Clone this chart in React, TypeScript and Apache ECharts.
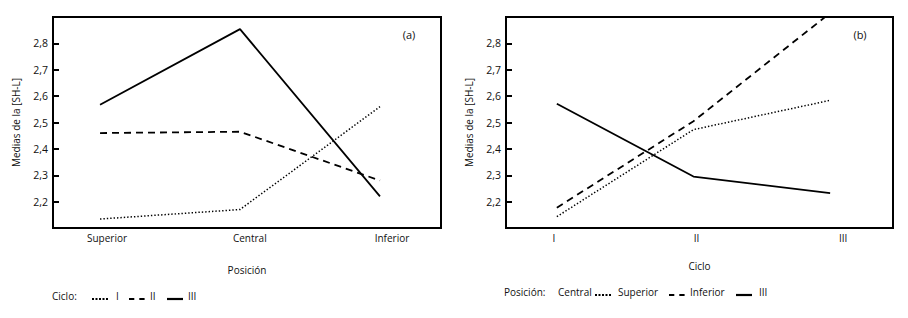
import React, { useEffect, useRef } from "react";
import * as echarts from "echarts";

// Panel (a): x = Posición, series = Ciclo
const positionCategories = ["Superior", "Central", "Inferior"];
const cicloI = [2.134, 2.17, 2.56];
const cicloII = [2.46, 2.465, 2.28];
const cicloIII = [2.567, 2.854, 2.22];

// Panel (b): x = Ciclo, series = Posición
const cycleCategories = ["I", "II", "III"];
const posSuperior = [2.143, 2.473, 2.584];
const posInferior = [2.177, 2.505, 2.915];
const posIII = [2.571, 2.295, 2.232];

const yMin = 2.1;
const yMax = 2.9;
const yStep = 0.1;

const yAxisName = "Medias de la [SH-L]";
const legendATitle = "Ciclo:";
const legendALabels = ["I", "II", "III"];
const legendBTitle = "Posición:";
const legendBPrefix = "Central";
const legendBLabels = ["Superior", "Inferior", "III"];

const FONT = "'Open Sans', 'Noto Sans', sans-serif";
const INK = "#111";

const dottedStyle = { color: "#000", width: 1.5, type: [1.4, 2.0] as number[] };
const dashedStyle = { color: "#000", width: 1.8, type: [7, 5] as number[] };
const solidStyle = { color: "#000", width: 1.8, type: "solid" as const };

const toPoints = (vals: number[]) => vals.map((v, i) => [i + 1, v]);

function yAxisFor(gridIndex: number) {
  return {
    type: "value" as const,
    gridIndex,
    min: yMin,
    max: yMax,
    interval: yStep,
    name: yAxisName,
    nameLocation: "middle" as const,
    nameGap: 32,
    nameTextStyle: { fontFamily: FONT, fontSize: 10, color: INK },
    axisLine: { show: false },
    axisTick: { show: true, inside: true, length: 6, lineStyle: { color: "#000", width: 2 } },
    splitLine: { show: false },
    axisLabel: {
      showMinLabel: false,
      showMaxLabel: false,
      margin: 5,
      fontFamily: FONT,
      fontSize: 10.5,
      color: INK,
      formatter: (v: number) => v.toFixed(1).replace(".", ","),
    },
  };
}

function xAxisFor(
  gridIndex: number,
  cats: string[],
  min: number,
  max: number,
  labelAt: number[],
  name: string,
  nameGap: number
) {
  return {
    type: "value" as const,
    gridIndex,
    min,
    max,
    name,
    nameLocation: "middle" as const,
    nameGap,
    nameTextStyle: { fontFamily: FONT, fontSize: 10, color: INK },
    axisLine: { show: false },
    axisTick: { show: false },
    splitLine: { show: false },
    axisLabel: {
      customValues: labelAt,
      showMinLabel: true,
      showMaxLabel: true,
      margin: 5,
      fontFamily: FONT,
      fontSize: 10,
      color: INK,
      formatter: (v: number) => cats[Math.round(v) - 1] ?? "",
    },
  };
}

function legendText(text: string, x: number, y: number) {
  return {
    type: "text",
    style: { text, x, y, fill: INK, fontFamily: FONT, fontSize: 10, align: "left", verticalAlign: "middle" },
  };
}
function legendLine(x1: number, x2: number, y: number, kind: number) {
  const dash = kind === 0 ? [2, 1.5] : kind === 1 ? [5.3, 5] : null;
  const width = kind === 0 ? 2 : 2.2;
  return {
    type: "line",
    shape: { x1, y1: y, x2, y2: y },
    style: { stroke: "#000", lineWidth: width, lineDash: dash },
  };
}

export default function App() {
  const ref = useRef<HTMLDivElement>(null);

  useEffect(() => {
    if (!ref.current) return;
    const chart = echarts.init(ref.current, null, { renderer: "svg" });
    const styles = [dottedStyle, dashedStyle, solidStyle];
    const seriesA = [cicloI, cicloII, cicloIII];
    const seriesB = [posSuperior, posInferior, posIII];

    const legendAX = [
      [92, 108, 116],
      [129, 145, 150],
      [167, 183, 188],
    ];
    const legendBX = [
      [595, 611, 618],
      [669, 685, 690],
      [736, 752, 759],
    ];

    const graphic: any[] = [
      {
        type: "text",
        style: { text: "(a)", x: 409, y: 34, fill: INK, fontFamily: FONT, fontSize: 11, align: "center", verticalAlign: "middle" },
      },
      {
        type: "text",
        style: { text: "(b)", x: 860, y: 34, fill: INK, fontFamily: FONT, fontSize: 11, align: "center", verticalAlign: "middle" },
      },
      legendText(legendATitle, 52, 296),
      legendText(legendBTitle, 504, 292),
      legendText(legendBPrefix, 558, 292),
    ];
    legendALabels.forEach((lab, i) => {
      const [a, b, t] = legendAX[i];
      graphic.push(legendLine(a, b, 299, i));
      graphic.push(legendText(lab, t, 296));
    });
    legendBLabels.forEach((lab, i) => {
      const [a, b, t] = legendBX[i];
      graphic.push(legendLine(a, b, 295, i));
      graphic.push(legendText(lab, t, 292));
    });

    chart.setOption({
      animation: false,
      backgroundColor: "#fff",
      textStyle: { fontFamily: FONT, color: INK },
      grid: [
        { left: 53, top: 17, width: 388, height: 211, show: true, borderColor: "#000", borderWidth: 2, backgroundColor: "transparent" },
        { left: 506, top: 17, width: 387, height: 211, show: true, borderColor: "#000", borderWidth: 2, backgroundColor: "transparent" },
      ],
      xAxis: [
        xAxisFor(0, positionCategories, 0.664, 3.436, [1.05, 2.07, 3.086], "Posición", 37),
        xAxisFor(1, cycleCategories, 0.628, 3.46, [0.978, 2.022, 3.095], "Ciclo", 33),
      ],
      yAxis: [yAxisFor(0), yAxisFor(1)],
      series: [
        ...seriesA.map((vals, i) => ({
          type: "line",
          name: legendALabels[i],
          xAxisIndex: 0,
          yAxisIndex: 0,
          data: toPoints(vals),
          symbol: "none",
          clip: true,
          lineStyle: styles[i],
        })),
        ...seriesB.map((vals, i) => ({
          type: "line",
          name: legendBLabels[i],
          xAxisIndex: 1,
          yAxisIndex: 1,
          data: toPoints(vals),
          symbol: "none",
          clip: true,
          lineStyle: styles[i],
        })),
      ],
      graphic,
    });

    return () => chart.dispose();
  }, []);

  return (
    <div
      ref={ref}
      style={{ position: "fixed", left: 0, top: 0, width: 908, height: 318, background: "#fff" }}
    />
  );
}
